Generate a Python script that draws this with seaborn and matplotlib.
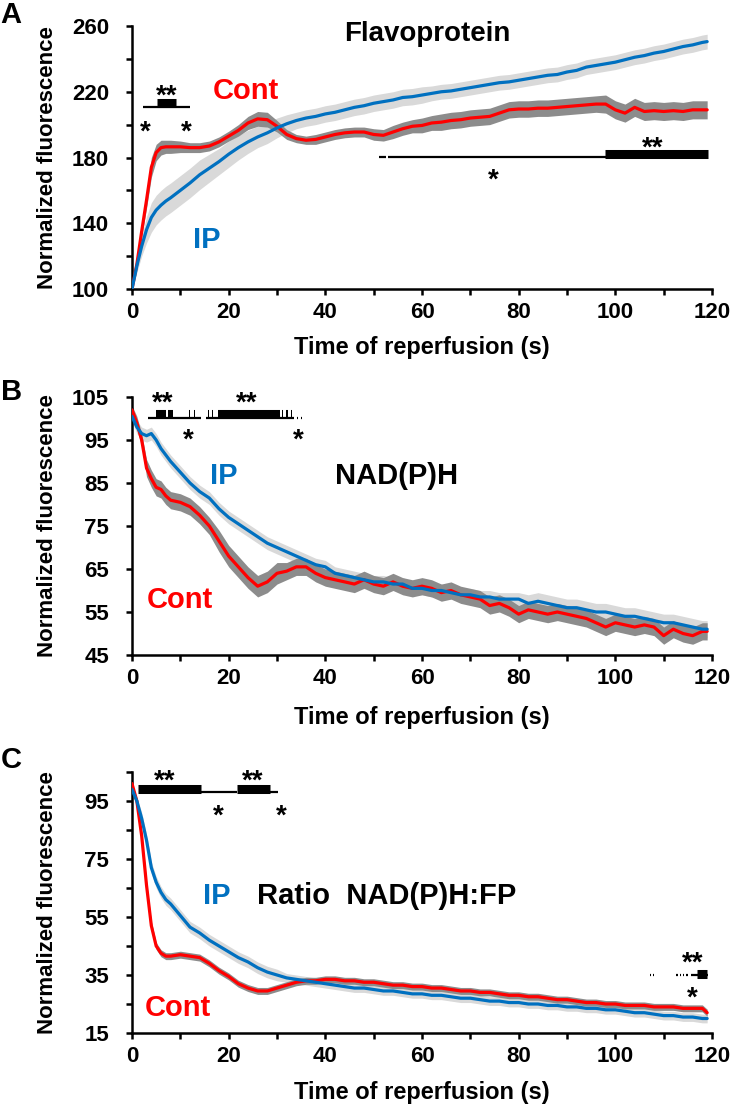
import numpy as np
import pandas as pd
import matplotlib
matplotlib.use("Agg")
import matplotlib.pyplot as plt
import seaborn as sns
from matplotlib.transforms import offset_copy

# tempi di campionamento (s)
time_s = [0, 1, 2, 3, 4, 5, 6, 7, 8] + list(range(10, 119, 2)) + [119]

# --- A: Flavoprotein ---
fa_cont = [100, 115, 135, 154, 174, 183, 186, 186.5, 186.5,
           186.5, 186, 186, 187, 189.5, 193, 196.5, 201, 203.5, 203,
           199, 194, 191.5, 190.5, 191, 192.5, 194, 195, 195.5, 195.5,
           194, 193.5, 195.5, 197.5, 199, 199.5, 201, 201.5, 202.5, 203,
           204, 204.5, 205, 207, 209, 209.5, 209.5, 210, 210, 210.5,
           211, 211.5, 212, 212.5, 212.5, 209, 207, 210.5, 208, 208.5,
           208, 208.5, 208, 209, 209,
           209]
fa_cont_err = [0, 2, 3, 5, 6, 5, 4.5, 4, 4,
               3.5, 3, 3, 3, 3, 3, 3.5, 4, 4.5, 4.5,
               3.5, 3, 2.5, 2.5, 3, 3, 3, 3, 3, 3,
               3.5, 3.5, 4, 4, 4, 4.5, 4.5, 5, 5, 5,
               5, 5, 5, 5, 5, 5, 5, 5, 5, 5,
               5, 5, 5, 5, 5.5, 5.5, 5.5, 5.5, 5.5, 5.5,
               5.5, 5.5, 5.5, 5.5, 5.5,
               5.5]
fa_ip = [100, 114, 126, 136, 143.5, 148, 151, 153.5, 155.5,
         160, 164.5, 169.5, 173.5, 177.5, 182, 186, 189.5, 192.5, 195,
         198, 200.5, 202.5, 204, 205, 206.5, 207.5, 209, 210.5, 211.5,
         213, 214, 215, 216.5, 217, 218, 219, 220, 220.5, 221.5,
         222.5, 223.5, 224.5, 225.5, 226, 227, 228, 229, 230, 230.5,
         232, 233, 235, 236, 237, 238, 239.5, 241, 242, 243.5,
         244.5, 246, 247.5, 248.5, 250,
         250.5]
fa_ip_err = [0, 4, 6, 8, 9, 9, 9, 9, 9,
             9, 9, 9, 8.5, 8, 8, 7.5, 7, 6.5, 6.5,
             6, 5.5, 5, 5, 5, 5, 5, 5, 5, 5,
             5, 5, 5, 5, 5, 5, 4.5, 4.5, 4.5, 4.5,
             4.5, 4.5, 4.5, 4.5, 4.5, 4.5, 4.5, 4.5, 4.5, 4.5,
             4.5, 4.5, 4.5, 4.5, 4.5, 4.5, 4.5, 4.5, 4.5, 4.5,
             4.5, 4.5, 4.5, 4.5, 4.5,
             4.5]

# --- B: NAD(P)H ---
nad_cont = [102, 99, 95, 88.5, 86, 84, 83.5, 82, 81,
            80.5, 79.5, 77.5, 75, 71.5, 68, 65.5, 63, 61, 62,
            64, 64.5, 65.5, 65.5, 64, 63, 62.5, 62, 61.5, 62.5,
            61.5, 61, 62, 61, 60.5, 61, 60.5, 59.5, 60, 59,
            58.5, 58, 56.5, 57, 56, 54.5, 55.5, 55, 54.5, 55,
            54.5, 54, 53.5, 52.5, 51.5, 52.5, 52, 51.5, 52, 51.5,
            49.5, 51, 50, 49.5, 50.5,
            50.5]
nad_cont_err = [1, 1.5, 1.5, 2, 2, 2, 2, 2, 2,
                2, 2, 2, 2, 2.5, 2.5, 2.5, 2.5, 2.5, 2.5,
                2.5, 2, 2, 2, 2, 2, 2, 2, 2, 2,
                2, 2, 2, 2, 2, 2, 2, 2, 2, 2,
                2, 2, 2, 2, 2, 2, 2, 2, 2, 2,
                2, 2, 2, 2, 2, 2, 2, 2, 2, 2,
                2, 2, 2, 2, 2,
                2]
nad_ip = [100.5, 98, 96.5, 96, 96.5, 95, 93, 91.5, 90,
          87.5, 85, 83, 81.5, 79, 77, 75.5, 74, 72.5, 71,
          70, 69, 68, 67, 66, 65.5, 64, 63.5, 63, 62.5,
          62, 62, 61.5, 61.5, 60.5, 60.5, 60, 60, 59.5, 59,
          59, 58.5, 58.5, 58, 58, 58, 57, 57.5, 57, 56.5,
          56, 56, 55.5, 55, 55, 54.5, 54, 54, 53.5, 53,
          52.5, 52.5, 52, 51.5, 51,
          51]
nad_ip_err = [1, 1.5, 1.5, 1.5, 1.5, 1.5, 1.5, 1.5, 1.5,
              1.5, 1.5, 1.5, 1.5, 1.5, 1.5, 1.5, 1.5, 1.5, 1.5,
              1.5, 1.5, 1.5, 1.5, 1.5, 1.5, 1.5, 1.5, 1.5, 1.5,
              1.5, 1.5, 1.5, 1.5, 1.5, 1.5, 1.5, 1.5, 1.5, 1.5,
              1.5, 1.5, 1.5, 1.5, 1.5, 1.5, 2, 2, 2, 2,
              2, 2, 2, 2, 2, 2, 2, 2, 2, 2,
              2, 2, 2, 2, 2,
              2]

# --- C: Ratio NAD(P)H:FP ---
ratio_cont = [101, 95, 83, 66, 52, 45, 42.5, 41.5, 41.5,
              42, 41.5, 41, 39, 36.5, 34.5, 32, 30.5, 29.5, 29.5,
              30.5, 31.5, 32.5, 33, 33, 33.5, 33.5, 33, 33, 32.5,
              32.5, 32, 31.5, 31.5, 31, 31, 30.5, 30.5, 30, 29.5,
              29.5, 29, 29, 28.5, 28, 28, 27.5, 27.5, 27, 26.5,
              26.5, 26, 25.5, 25.5, 25, 25, 24.5, 24.5, 24.5, 24,
              24, 24, 23.5, 23.5, 23.5,
              22]
ratio_cont_err = [0.5, 1, 1.5, 1.5, 1.5, 1.2, 1.2, 1.2, 1.2,
                  1.2, 1.2, 1.2, 1.2, 1.2, 1.2, 1.2, 1.2, 1.2, 1.2,
                  1.2, 1.2, 1.2, 1.2, 1.2, 1.2, 1.2, 1.2, 1.2, 1.2,
                  1.2, 1.2, 1.2, 1.2, 1.2, 1.2, 1.2, 1.2, 1.2, 1.2,
                  1.2, 1.2, 1.2, 1.2, 1.2, 1.2, 1.2, 1.2, 1.2, 1.2,
                  1.2, 1.2, 1.2, 1.2, 1.2, 1.2, 1.2, 1.2, 1.2, 1.2,
                  1.2, 1.2, 1.2, 1.2, 1.2,
                  1.2]
ratio_ip = [99, 95, 89, 81.5, 72, 67, 63.5, 61, 59.5,
            55.5, 51.5, 49.5, 47, 45, 43, 41, 39.5, 37.5, 36,
            35, 34, 33.5, 33, 32.5, 32, 31.5, 31, 30.5, 30.5,
            30, 29.5, 29.5, 29, 28.5, 28.5, 28, 28, 27.5, 27,
            27, 26.5, 26, 26, 25.5, 25.5, 25, 25, 24.5, 24.5,
            24, 24, 23.5, 23.5, 23, 23, 22.5, 22, 22, 21.5,
            21, 21, 20.5, 20.5, 20,
            20]
ratio_ip_err = [0.5, 1.5, 2, 2, 2, 2, 2, 2, 2,
                2, 2, 2, 2, 2, 2, 2, 2, 2, 2,
                2, 1.5, 1.5, 1.5, 1.5, 1.5, 1.5, 1.5, 1.5, 1.5,
                1.5, 1.5, 1.5, 1.5, 1.5, 1.5, 1.5, 1.5, 1.5, 1.5,
                1.5, 1.5, 1.5, 1.5, 1.5, 1.5, 1.5, 1.5, 1.5, 1.5,
                1.5, 1.5, 1.5, 1.5, 1.5, 1.5, 1.5, 1.5, 1.5, 1.5,
                1.5, 1.5, 1.5, 1.5, 1.5,
                1.5]

# barre di significativita' (inizio, fine, livello)
sigA_thin = [(2.2, 11.9, 210.5), (51.0, 52.6, 180.3), (53.0, 119.2, 180.3)]
sigA_thick = [(5.1, 9.2, 213.0), (97.9, 119.2, 182.4)]
sigA_stars = [(7.2, 222.3, "**"), (2.7, 200.4, "*"), (11.2, 200.4, "*"),
              (107.8, 191.2, "**"), (74.7, 171.2, "*")]

sigB_thin = [(3.3, 14.3, 100.1), (15.4, 33.6, 100.1), (34.2, 34.4, 100.1), (34.9, 35.1, 100.1)]
sigB_thick = [(5.0, 7.1, 101.0), (7.5, 8.5, 101.0), (11.8, 12.0, 101.0), (12.8, 13.0, 101.0),
              (15.8, 16.0, 101.0), (16.5, 16.7, 101.0), (17.8, 30.6, 101.0),
              (31.0, 31.3, 101.0), (31.8, 32.2, 101.0), (32.8, 33.0, 101.0)]
sigB_stars = [(6.4, 105.5, "**"), (23.7, 105.5, "**"), (11.7, 96.9, "*"), (34.3, 96.9, "*")]

sigC_thin = [(14.2, 21.7, 98.1), (28.6, 30.2, 98.1),
             (107.2, 107.4, 35), (107.7, 107.9, 35), (112.6, 112.9, 35), (113.3, 113.6, 35),
             (114.0, 114.3, 35), (114.7, 115.0, 35), (115.6, 119.2, 35)]
sigC_thick = [(1.2, 14.2, 99.1), (21.7, 28.6, 99.1), (116.8, 119.0, 35.3)]
sigC_stars = [(6.8, 104.8, "**"), (25.0, 104.8, "**"), (17.8, 92.7, "*"), (30.8, 92.7, "*"),
              (115.9, 41.9, "**"), (115.9, 29.9, "*")]

RED = "#ff0000"
BLUE = "#0070c0"
DARK = "#8c8c8c"
LIGHT = "#d9d9d9"

sns.set_theme(style="ticks")
plt.rcParams['font.family'] = ['Liberation Sans', 'DejaVu Sans']
plt.rcParams['font.weight'] = 'bold'
plt.rcParams['axes.linewidth'] = 1.8
for key in ("text.color", "axes.labelcolor", "xtick.color", "ytick.color", "axes.edgecolor"):
    plt.rcParams[key] = "black"

fig = plt.figure(figsize=(7.33, 11.06), dpi=100)
W, H = 733.0, 1106.0


def make_axes(top, bottom, left=132, right=712):
    return fig.add_axes([left / W, 1 - bottom / H, (right - left) / W, (bottom - top) / H])


def draw_panel(ax, cont, cont_err, ip, ip_err):
    t = np.array(time_s, dtype=float)
    cont = np.array(cont, dtype=float)
    ip = np.array(ip, dtype=float)
    cont_err = np.array(cont_err, dtype=float)
    ip_err = np.array(ip_err, dtype=float)
    ax.fill_between(t, ip - ip_err, ip + ip_err, color=LIGHT, lw=0, zorder=1)
    ax.fill_between(t, cont - cont_err, cont + cont_err, color=DARK, lw=0, zorder=1.5)
    df = pd.DataFrame({
        "time": np.concatenate([t, t]),
        "value": np.concatenate([cont, ip]),
        "group": ["Cont"] * len(t) + ["IP"] * len(t),
    })
    sns.lineplot(data=df, x="time", y="value", hue="group", hue_order=["Cont", "IP"],
                 palette={"Cont": RED, "IP": BLUE}, estimator=None, errorbar=None,
                 legend=False, lw=2.3, ax=ax, zorder=3)


def draw_sig(ax, thin, thick, thick_lw):
    for t0, t1, y in thin:
        ax.plot([t0, t1], [y, y], color="black", lw=1.6, solid_capstyle="butt",
                clip_on=False, zorder=4)
    for t0, t1, y in thick:
        ax.plot([t0, t1], [y, y], color="black", lw=thick_lw, solid_capstyle="butt",
                clip_on=False, zorder=4)


def draw_stars(ax, stars, fs=20):
    tr = offset_copy(ax.transData, fig=fig, y=-0.58 * fs, units="points")
    for t, y, s in stars:
        ax.text(t, y, s, transform=tr, ha="center", va="baseline", fontsize=fs,
                fontweight="bold", color="black", clip_on=False, zorder=5)


def style_axes(ax, ylim, ymajor, yminor):
    ax.set_xlim(0, 120)
    ax.set_ylim(*ylim)
    ax.set_xticks(range(0, 121, 20))
    ax.set_xticks(range(10, 120, 20), minor=True)
    ax.set_yticks(ymajor)
    ax.set_yticks(yminor, minor=True)
    ax.set_xlabel("")
    ax.set_ylabel("")
    sns.despine(ax=ax)
    for sp in ("left", "bottom"):
        ax.spines[sp].set_linewidth(1.8)
        ax.spines[sp].set_color("black")
    ax.tick_params(which="both", direction="out", length=4.5, width=1.8, color="black")
    ax.tick_params(axis="x", labelsize=16, pad=5, labelcolor="black")
    ax.tick_params(axis="y", labelsize=16, pad=12, labelcolor="black")
    for lab in ax.get_xticklabels() + ax.get_yticklabels():
        lab.set_fontweight("bold")


# Pannello A
axA = make_axes(26, 289)
draw_panel(axA, fa_cont, fa_cont_err, fa_ip, fa_ip_err)
style_axes(axA, (100, 260), range(100, 261, 40), range(120, 260, 40))
draw_sig(axA, sigA_thin, sigA_thick, 6.5)
draw_stars(axA, sigA_stars)
axA.text(61.2, 256.9, "Flavoprotein", color="black", ha="center", va="center_baseline", fontsize=20)
axA.text(23.6, 222.3, "Cont", color=RED, ha="center", va="center_baseline", fontsize=21)
axA.text(15.5, 131.6, "IP", color=BLUE, ha="center", va="center_baseline", fontsize=21)

# Pannello B
axB = make_axes(397, 655)
draw_panel(axB, nad_cont, nad_cont_err, nad_ip, nad_ip_err)
style_axes(axB, (45, 105), range(45, 106, 10), [])
draw_sig(axB, sigB_thin, sigB_thick, 5.8)
draw_stars(axB, sigB_stars)
axB.text(18.9, 87.3, "IP", color=BLUE, ha="center", va="center_baseline", fontsize=21)
axB.text(54.8, 87.3, "NAD(P)H", color="black", ha="center", va="center_baseline", fontsize=21)
axB.text(10.0, 58.6, "Cont", color=RED, ha="center", va="center_baseline", fontsize=21)

# Pannello C
axC = make_axes(772, 1033)
draw_panel(axC, ratio_cont, ratio_cont_err, ratio_ip, ratio_ip_err)
style_axes(axC, (15, 105), range(15, 96, 20), range(25, 106, 20))
draw_sig(axC, sigC_thin, sigC_thick, 6.5)
draw_stars(axC, sigC_stars)
axC.text(17.6, 63.3, "IP", color=BLUE, ha="center", va="center_baseline", fontsize=21)
axC.text(25.9, 63.3, "Ratio  NAD(P)H:FP", color="black", ha="left", va="center_baseline", fontsize=21)
axC.text(9.4, 24.5, "Cont", color=RED, ha="center", va="center_baseline", fontsize=21)

# etichette comuni
for yc_label, y_top, y_bot in [(345, 26, 289), (715, 397, 655), (1090, 772, 1033)]:
    fig.text(422 / W, 1 - yc_label / H, "Time of reperfusion (s)", ha="center",
             va="center_baseline", fontsize=17, fontweight="bold", color="black")
    fig.text(48 / W, 1 - (y_top + y_bot) / 2 / H, "Normalized fluorescence", rotation=90,
             ha="center", va="center", fontsize=16, fontweight="bold", color="black")

for letter, x, y in [("A", 11, 12), ("B", 12, 389), ("C", 11, 757)]:
    fig.text(x / W, 1 - y / H, letter, ha="center", va="center_baseline",
             fontsize=21, fontweight="bold", color="black")

fig.savefig("out.png", dpi=100)
plt.close(fig)
